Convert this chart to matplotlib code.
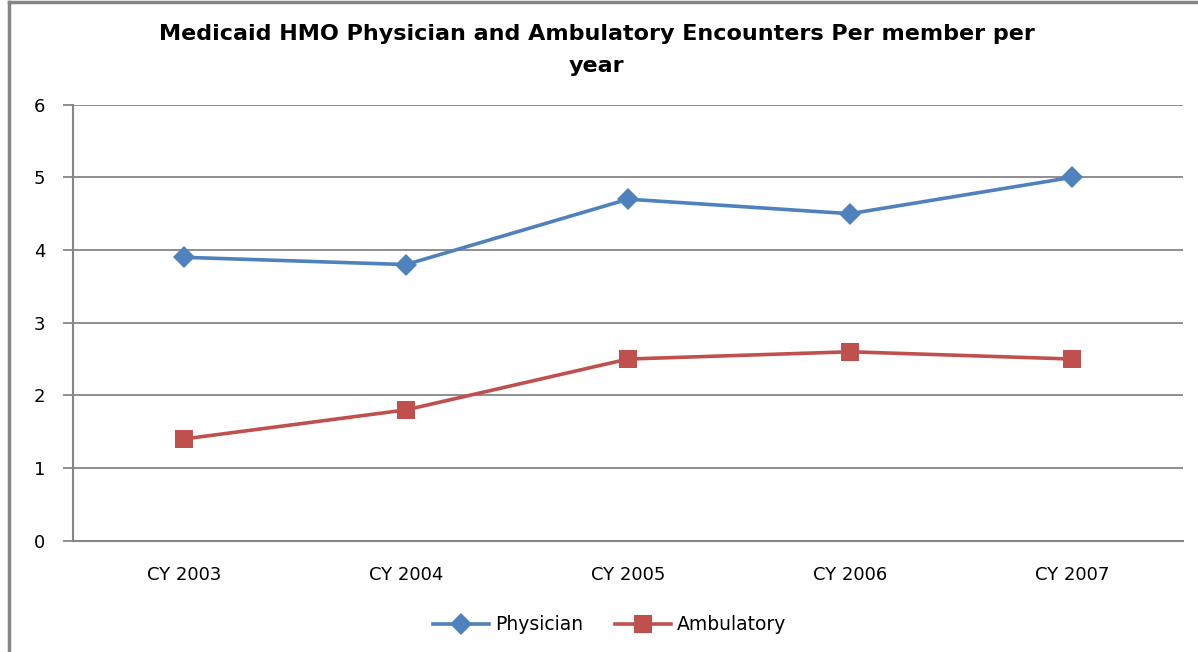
import matplotlib
matplotlib.use("Agg")
import matplotlib.pyplot as plt
from matplotlib.lines import Line2D

categories = ["CY 2003", "CY 2004", "CY 2005", "CY 2006", "CY 2007"]
physician = [3.9, 3.8, 4.7, 4.5, 5.0]
ambulatory = [1.4, 1.8, 2.5, 2.6, 2.5]
yticks = [0, 1, 2, 3, 4, 5, 6]
title = "Medicaid HMO Physician and Ambulatory Encounters Per member per\nyear"

BLUE = "#4F81BD"
RED = "#C0504D"
GRID = "#868686"

plt.rcParams["font.family"] = ["DejaVu Sans"]

fig = plt.figure(figsize=(11.98, 6.52), dpi=100)
ax = fig.add_axes([73/1198, 1 - 540.7/652, (1183-73)/1198, (540.7-104.7)/652])

x = list(range(len(categories)))
ax.plot(x, physician, color=BLUE, lw=2.6, marker="D", ms=11,
        markeredgewidth=0, label="Physician", zorder=3)
ax.plot(x, ambulatory, color=RED, lw=2.6, marker="s", ms=13.5,
        markeredgewidth=0, label="Ambulatory", zorder=3)

ax.set_xlim(-0.5, len(categories) - 0.5)
ax.set_ylim(0, 6)
ax.set_yticks(yticks)
ax.set_yticklabels([str(v) for v in yticks])
ax.set_xticks(x)
ax.set_xticklabels(categories)
ax.grid(axis="y", color=GRID, lw=1.3)
ax.set_axisbelow(True)
for s in ["top", "right"]:
    ax.spines[s].set_visible(False)
for s in ["left", "bottom"]:
    ax.spines[s].set_color(GRID)
    ax.spines[s].set_linewidth(1.5)
ax.tick_params(axis="y", length=7, width=1.3, color=GRID, labelsize=13, pad=13)
ax.tick_params(axis="x", length=0, labelsize=13, pad=18)

fig.text(0.498, 1 - 50/652, title, ha="center", va="center",
         fontsize=16.0, fontweight="bold", linespacing=1.7)

leg = fig.legend(loc="center", bbox_to_anchor=(0.509, 1 - 625/652), ncol=2,
                 frameon=False, fontsize=13.5, handlelength=3.0,
                 handletextpad=0.3, columnspacing=1.7)

# outer frame (left and top edges)
fig.add_artist(Line2D([9/1198, 9/1198], [0, 1 - 2/652], transform=fig.transFigure,
                      color=GRID, lw=2.5))
fig.add_artist(Line2D([9/1198, 1], [1 - 2/652, 1 - 2/652], transform=fig.transFigure,
                      color=GRID, lw=2.5))

fig.savefig("out.png", dpi=100)
